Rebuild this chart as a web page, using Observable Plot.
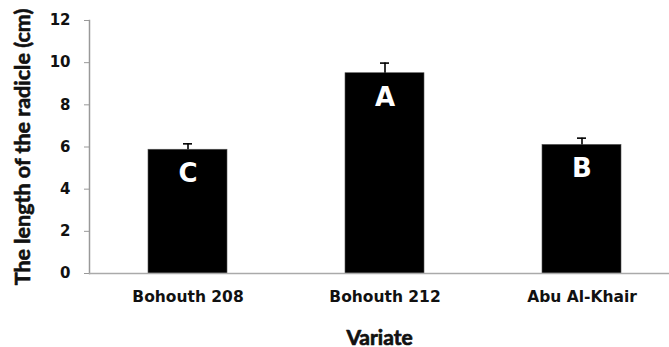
<!DOCTYPE html>
<html>
<head>
<meta charset="utf-8">
<script src="https://cdn.jsdelivr.net/npm/d3@7"></script>
<script src="https://cdn.jsdelivr.net/npm/@observablehq/plot@0.6"></script>
<style>
  html, body { margin: 0; padding: 0; background: #fff; }
  #chart svg { display: block; }
</style>
</head>
<body>
<div id="chart"></div>
<script>
// Radicle length by variety (cm), with standard error and significance group
const varieties = ["Bohouth 208", "Bohouth 212", "Abu Al-Khair"];
const radicleLength = [5.87, 9.5, 6.1];
const stdError = [0.28, 0.48, 0.32];
const groups = ["C", "A", "B"];
const yTicks = [0, 2, 4, 6, 8, 10, 12];

const data = varieties.map((v, i) => ({
  variety: v,
  value: radicleLength[i],
  err: stdError[i],
  group: groups[i]
}));

const chart = Plot.plot({
  width: 669,
  height: 347,
  marginTop: 20,
  marginLeft: 89,
  marginRight: 0,
  marginBottom: 74,
  style: {
    fontFamily: "'DejaVu Sans', sans-serif",
    fontWeight: "bold",
    fontSize: "15px",
    color: "#111",
    background: "#fff"
  },
  x: {
    domain: varieties,
    range: [89, 680],
    paddingInner: 0.6,
    paddingOuter: 0.3
  },
  y: {
    domain: [0, 12]
  },
  marks: [
    Plot.barY(data, {x: "variety", y: "value", fill: "#000", stroke: "#555", strokeWidth: 0.6}),
    // error bars: stem plus cap
    Plot.ruleX(data, {x: "variety", y1: "value", y2: d => d.value + d.err, stroke: "#000", strokeWidth: 1.6}),
    Plot.tickY(data, {x: "variety", y: d => d.value + d.err, stroke: "#000", strokeWidth: 1.6, inset: 35}),
    Plot.text(data, {
      x: "variety", y: "value", text: "group", dy: 24,
      fill: "#fff", fontSize: 26, fontWeight: "bold",
      fontFamily: "'DejaVu Sans', sans-serif"
    }),
    Plot.axisY({
      ticks: yTicks, tickSize: 5, tickPadding: 14, stroke: "#999",
      label: null
    }),
    Plot.frame({anchor: "left", stroke: "#999", strokeWidth: 1.5}),
    Plot.ruleY([0], {stroke: "#aaa", strokeWidth: 1.5}),
    Plot.axisX({tickSize: 0, tickPadding: 17, fontSize: 15.5, label: null}),
    Plot.text(["Variate"], {
      frameAnchor: "bottom", lineAnchor: "bottom", dy: 71, fontSize: 21, fontWeight: "bold",
      fontFamily: "Lato, sans-serif", fill: "#111", stroke: "#111", strokeWidth: 0.7
    }),
    Plot.text(["The length of the radicle (cm)"], {
      frameAnchor: "left", textAnchor: "middle", lineAnchor: "middle", dx: -66, rotate: -90,
      fontSize: 21.5, fontWeight: "bold",
      fontFamily: "Lato, sans-serif", fill: "#111", stroke: "#111", strokeWidth: 0.6
    })
  ]
});

document.getElementById("chart").appendChild(chart);
</script>
</body>
</html>
